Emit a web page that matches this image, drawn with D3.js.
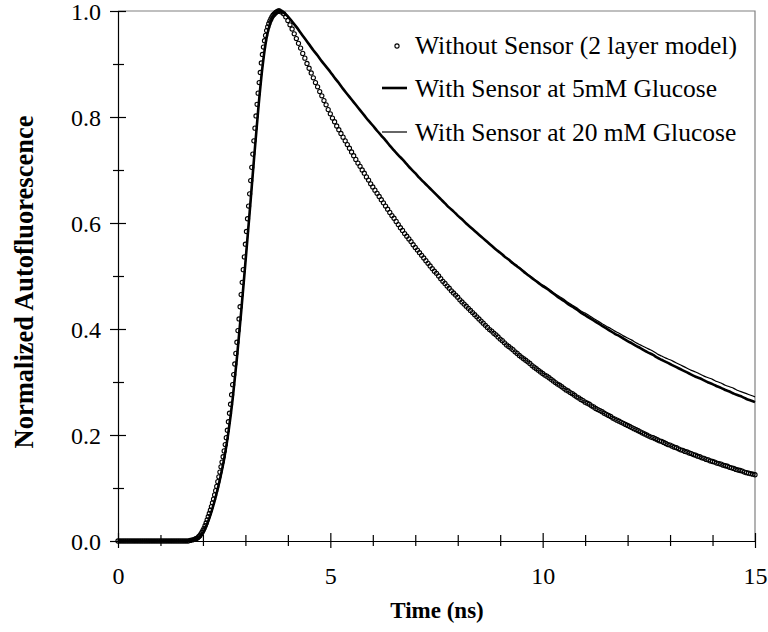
<!DOCTYPE html>
<html>
<head>
<meta charset="utf-8">
<script src="https://cdn.jsdelivr.net/npm/d3@7"></script>
<style>
  body { margin: 0; background: #fff; }
  svg { display: block; }
  text { font-family: "Liberation Serif", "Times New Roman", serif; fill: #000; }
</style>
</head>
<body>
<svg id="chart" width="768" height="632"></svg>
<script>
// ---- data ----
const timeNs = [
  0.0,0.1,0.2,0.3,0.4,0.5,0.6,0.7,0.8,0.9,
  1.0,1.1,1.2,1.3,1.4,1.5,1.6,1.7,1.8,1.9,
  2.0,2.1,2.2,2.3,2.4,2.5,2.6,2.7,2.8,2.9,
  3.0,3.1,3.2,3.3,3.4,3.5,3.6,3.7,3.8,3.9,
  4.0,4.1,4.2,4.3,4.4,4.5,4.6,4.7,4.8,4.9,
  5.0,5.1,5.2,5.3,5.4,5.5,5.6,5.7,5.8,5.9,
  6.0,6.1,6.2,6.3,6.4,6.5,6.6,6.7,6.8,6.9,
  7.0,7.1,7.2,7.3,7.4,7.5,7.6,7.7,7.8,7.9,
  8.0,8.1,8.2,8.3,8.4,8.5,8.6,8.7,8.8,8.9,
  9.0,9.1,9.2,9.3,9.4,9.5,9.6,9.7,9.8,9.9,
  10.0,10.1,10.2,10.3,10.4,10.5,10.6,10.7,10.8,10.9,
  11.0,11.1,11.2,11.3,11.4,11.5,11.6,11.7,11.8,11.9,
  12.0,12.1,12.2,12.3,12.4,12.5,12.6,12.7,12.8,12.9,
  13.0,13.1,13.2,13.3,13.4,13.5,13.6,13.7,13.8,13.9,
  14.0,14.1,14.2,14.3,14.4,14.5,14.6,14.7,14.8,14.9,
  15.0
];

const sensor5mM = [
  0,0,0,0,0,0,0,0,0,0,
  0,0,0,0,0,0,0,0.001,0.002,0.006,
  0.015,0.032,0.055,0.083,0.116,0.155,0.205,0.268,0.345,0.432,
  0.525,0.620,0.718,0.812,0.893,0.950,0.980,0.995,1.000,0.997,
  0.990,0.980,0.970,0.959,0.948,0.937,0.926,0.916,0.905,0.895,
  0.885,0.874,0.864,0.853,0.843,0.833,0.823,0.813,0.803,0.793,
  0.784,0.774,0.765,0.756,0.746,0.737,0.728,0.720,0.711,0.702,
  0.694,0.685,0.677,0.669,0.661,0.653,0.645,0.637,0.629,0.622,
  0.614,0.607,0.599,0.592,0.585,0.578,0.571,0.564,0.557,0.550,
  0.544,0.537,0.531,0.524,0.518,0.512,0.505,0.499,0.493,0.487,
  0.481,0.476,0.470,0.464,0.458,0.453,0.447,0.442,0.437,0.431,
  0.426,0.421,0.416,0.411,0.406,0.401,0.396,0.391,0.387,0.382,
  0.377,0.373,0.368,0.364,0.359,0.355,0.351,0.346,0.342,0.338,
  0.334,0.330,0.326,0.322,0.318,0.314,0.310,0.307,0.303,0.299,
  0.296,0.292,0.289,0.285,0.282,0.278,0.275,0.272,0.268,0.265,
  0.262
];

const sensor20mM = [
  0,0,0,0,0,0,0,0,0,0,
  0,0,0,0,0,0,0,0.001,0.002,0.006,
  0.015,0.032,0.055,0.083,0.116,0.155,0.205,0.268,0.345,0.432,
  0.525,0.620,0.718,0.812,0.893,0.950,0.980,0.995,1.000,0.997,
  0.990,0.980,0.970,0.959,0.948,0.937,0.926,0.916,0.905,0.895,
  0.885,0.874,0.864,0.853,0.843,0.833,0.823,0.813,0.803,0.793,
  0.784,0.774,0.765,0.756,0.746,0.737,0.728,0.720,0.711,0.702,
  0.694,0.685,0.677,0.669,0.661,0.653,0.645,0.637,0.629,0.622,
  0.614,0.607,0.599,0.592,0.585,0.578,0.571,0.564,0.557,0.550,
  0.544,0.537,0.531,0.525,0.519,0.513,0.506,0.500,0.494,0.488,
  0.483,0.478,0.472,0.466,0.461,0.456,0.450,0.445,0.440,0.434,
  0.430,0.425,0.420,0.415,0.410,0.405,0.401,0.396,0.392,0.387,
  0.383,0.379,0.374,0.370,0.366,0.362,0.358,0.353,0.349,0.345,
  0.342,0.338,0.334,0.330,0.326,0.322,0.319,0.315,0.311,0.308,
  0.305,0.301,0.298,0.294,0.291,0.288,0.284,0.281,0.278,0.275,
  0.272
];

// open-circle series: [time (ns), value]
const withoutSensor = [
  [0.00,0],[0.05,0],[0.10,0],[0.15,0],[0.20,0],[0.25,0],[0.30,0],[0.35,0],
  [0.40,0],[0.45,0],[0.50,0],[0.55,0],[0.60,0],[0.65,0],[0.70,0],[0.75,0],
  [0.80,0],[0.85,0],[0.90,0],[0.95,0],[1.00,0],[1.05,0],[1.10,0],[1.15,0],
  [1.20,0],[1.25,0],[1.30,0],[1.35,0],[1.40,0],[1.45,0],[1.50,0],[1.55,0],
  [1.60,0],[1.65,0],[1.70,0.001],[1.75,0.002],
  [1.800,0.003],[1.825,0.004],[1.850,0.005],[1.875,0.006],[1.900,0.008],[1.925,0.010],[1.950,0.013],[1.975,0.016],
  [2.000,0.020],[2.025,0.024],[2.050,0.029],[2.075,0.034],[2.100,0.040],[2.125,0.046],[2.150,0.052],[2.175,0.058],
  [2.200,0.065],[2.225,0.072],[2.250,0.079],[2.275,0.087],[2.300,0.095],[2.325,0.103],[2.350,0.112],[2.375,0.121],
  [2.400,0.130],[2.425,0.140],[2.450,0.149],[2.475,0.159],[2.500,0.170],[2.525,0.182],[2.550,0.195],[2.575,0.209],
  [2.600,0.225],[2.625,0.241],[2.650,0.258],[2.675,0.276],[2.700,0.295],[2.725,0.314],[2.750,0.334],[2.775,0.354],
  [2.800,0.375],[2.825,0.397],[2.850,0.419],[2.875,0.442],[2.900,0.465],[2.925,0.488],[2.950,0.512],[2.975,0.536],
  [3.000,0.560],[3.025,0.584],[3.050,0.608],[3.075,0.632],[3.100,0.655],[3.125,0.680],[3.150,0.705],[3.175,0.730],
  [3.200,0.755],[3.225,0.779],[3.250,0.802],[3.275,0.824],[3.300,0.845],[3.325,0.865],[3.350,0.884],[3.375,0.902],
  [3.400,0.918],[3.425,0.932],[3.450,0.944],[3.475,0.954],[3.500,0.963],[3.525,0.970],[3.550,0.976],[3.575,0.981],
  [3.600,0.985],[3.625,0.989],[3.650,0.992],[3.675,0.994],[3.700,0.996],[3.725,0.998],[3.750,0.999],[3.775,1.000],
  [3.80,1.000],[3.85,0.998],[3.90,0.995],[3.95,0.989],[4.00,0.982],[4.05,0.974],[4.10,0.966],[4.15,0.957],
  [4.20,0.948],[4.25,0.939],[4.30,0.930],[4.35,0.920],[4.40,0.911],[4.45,0.901],[4.50,0.892],[4.55,0.883],
  [4.60,0.874],[4.65,0.865],[4.70,0.857],[4.75,0.848],[4.80,0.840],[4.85,0.831],[4.90,0.823],[4.95,0.814],
  [5.00,0.806],[5.05,0.798],[5.10,0.791],[5.15,0.783],[5.20,0.776],[5.25,0.769],[5.30,0.762],[5.35,0.755],
  [5.40,0.748],[5.45,0.741],[5.50,0.734],[5.55,0.727],[5.60,0.720],[5.65,0.713],[5.70,0.707],[5.75,0.700],
  [5.80,0.694],[5.85,0.687],[5.90,0.681],[5.95,0.674],[6.00,0.668],[6.05,0.662],[6.10,0.656],[6.15,0.650],
  [6.20,0.644],[6.25,0.638],[6.30,0.632],[6.35,0.626],[6.40,0.620],[6.45,0.614],[6.50,0.609],[6.55,0.603],
  [6.60,0.597],[6.65,0.591],[6.70,0.586],[6.75,0.580],[6.80,0.575],[6.85,0.570],[6.90,0.565],[6.95,0.559],
  [7.00,0.554],[7.05,0.549],[7.10,0.544],[7.15,0.539],[7.20,0.534],[7.25,0.529],[7.30,0.524],[7.35,0.519],
  [7.40,0.514],[7.45,0.509],[7.50,0.505],[7.55,0.500],[7.60,0.495],[7.65,0.490],[7.70,0.486],[7.75,0.481],
  [7.80,0.477],[7.85,0.472],[7.90,0.468],[7.95,0.464],[8.00,0.460],[8.05,0.455],[8.10,0.451],[8.15,0.447],
  [8.20,0.443],[8.25,0.439],[8.30,0.435],[8.35,0.431],[8.40,0.427],[8.45,0.423],[8.50,0.419],[8.55,0.415],
  [8.60,0.411],[8.65,0.407],[8.70,0.403],[8.75,0.399],[8.80,0.396],[8.85,0.392],[8.90,0.389],[8.95,0.385],
  [9.00,0.381],[9.05,0.378],[9.10,0.374],[9.15,0.370],[9.20,0.367],[9.25,0.364],[9.30,0.361],[9.35,0.357],
  [9.40,0.354],[9.45,0.350],[9.50,0.347],[9.55,0.344],[9.60,0.341],[9.65,0.338],[9.70,0.335],[9.75,0.331],
  [9.80,0.328],[9.85,0.325],[9.90,0.322],[9.95,0.319],[10.00,0.316],[10.05,0.313],[10.10,0.311],[10.15,0.308],
  [10.20,0.305],[10.25,0.302],[10.30,0.299],[10.35,0.296],[10.40,0.294],[10.45,0.291],[10.50,0.288],[10.55,0.285],
  [10.60,0.283],[10.65,0.280],[10.70,0.278],[10.75,0.275],[10.80,0.272],[10.85,0.270],[10.90,0.267],[10.95,0.265],
  [11.00,0.262],[11.05,0.260],[11.10,0.258],[11.15,0.255],[11.20,0.253],[11.25,0.250],[11.30,0.248],[11.35,0.246],
  [11.40,0.244],[11.45,0.241],[11.50,0.239],[11.55,0.237],[11.60,0.235],[11.65,0.232],[11.70,0.230],[11.75,0.228],
  [11.80,0.226],[11.85,0.224],[11.90,0.222],[11.95,0.220],[12.00,0.218],[12.05,0.216],[12.10,0.214],[12.15,0.212],
  [12.20,0.210],[12.25,0.208],[12.30,0.206],[12.35,0.204],[12.40,0.202],[12.45,0.200],[12.50,0.198],[12.55,0.196],
  [12.60,0.195],[12.65,0.193],[12.70,0.191],[12.75,0.189],[12.80,0.188],[12.85,0.186],[12.90,0.184],[12.95,0.182],
  [13.00,0.181],[13.05,0.179],[13.10,0.177],[13.15,0.176],[13.20,0.174],[13.25,0.172],[13.30,0.171],[13.35,0.169],
  [13.40,0.168],[13.45,0.166],[13.50,0.165],[13.55,0.163],[13.60,0.162],[13.65,0.160],[13.70,0.159],[13.75,0.157],
  [13.80,0.156],[13.85,0.154],[13.90,0.153],[13.95,0.151],[14.00,0.150],[14.05,0.149],[14.10,0.147],[14.15,0.146],
  [14.20,0.145],[14.25,0.143],[14.30,0.142],[14.35,0.141],[14.40,0.139],[14.45,0.138],[14.50,0.137],[14.55,0.135],
  [14.60,0.134],[14.65,0.133],[14.70,0.132],[14.75,0.130],[14.80,0.129],[14.85,0.128],[14.90,0.127],[14.95,0.126],
  [15.00,0.125]
];

const xMajorTicks = [0, 5, 10, 15];
const xMinorTicks = [1, 2, 3, 4, 6, 7, 8, 9, 11, 12, 13, 14];
const yMajorTicks = [0, 0.2, 0.4, 0.6, 0.8, 1.0];
const yMinorTicks = [0.1, 0.3, 0.5, 0.7, 0.9];
const legendLabels = [
  'Without Sensor (2 layer model)',
  'With Sensor at 5mM Glucose',
  'With Sensor at 20 mM Glucose'
];

// ---- layout ----
const svg = d3.select('#chart');
const x = d3.scaleLinear().domain([0, 15]).range([118, 755]);
const y = d3.scaleLinear().domain([0, 1]).range([541, 11]);

// plot frame (top + right, grey)
svg.append('path')
  .attr('d', `M${x(0)},${y(1)}H${x(15)}V${y(0)}`)
  .attr('fill', 'none').attr('stroke', '#808080').attr('stroke-width', 1.2);

// y axis
const yAxis = svg.append('g').attr('transform', `translate(${x(0)},0)`)
  .call(d3.axisLeft(y).tickValues(yMajorTicks).tickSizeInner(8).tickSizeOuter(0)
    .tickPadding(9).tickFormat(d3.format('.1f')));
yAxis.selectAll('.tick line').attr('x1', 8);
yAxis.selectAll('.tick text').attr('dy', '0.36em');
svg.append('g').attr('transform', `translate(${x(0)},0)`)
  .call(d3.axisLeft(y).tickValues(yMinorTicks).tickSizeInner(5).tickSizeOuter(0).tickFormat(''))
  .call(g => g.select('.domain').remove())
  .selectAll('.tick line').attr('x1', 6);

// x axis
const xAxis = svg.append('g').attr('transform', `translate(0,${y(0)})`)
  .call(d3.axisBottom(x).tickValues(xMajorTicks).tickSizeInner(7).tickSizeOuter(0)
    .tickPadding(19).tickFormat(d3.format('d')));
xAxis.selectAll('.tick line').attr('y1', -8);
svg.append('g').attr('transform', `translate(0,${y(0)})`)
  .call(d3.axisBottom(x).tickValues(xMinorTicks).tickSizeInner(5).tickSizeOuter(0).tickFormat(''))
  .call(g => g.select('.domain').remove())
  .selectAll('.tick line').attr('y1', -6);

svg.selectAll('.domain, .tick line').attr('stroke', '#000').attr('stroke-width', 1.2);
svg.selectAll('.tick text')
  .style('font-family', '"Liberation Serif", "Times New Roman", serif')
  .style('font-size', '24px').attr('fill', '#000');

// axis titles
svg.append('text')
  .attr('x', 437).attr('y', 618)
  .attr('text-anchor', 'middle')
  .style('font-size', '23px').style('font-weight', 'bold')
  .text('Time (ns)');
svg.append('text')
  .attr('transform', 'translate(33,282) rotate(-90)')
  .attr('text-anchor', 'middle')
  .style('font-size', '26.5px').style('font-weight', 'bold')
  .text('Normalized Autofluorescence');

// ---- series ----
svg.append('g').selectAll('circle')
  .data(withoutSensor)
  .join('circle')
  .attr('cx', d => x(d[0]))
  .attr('cy', d => y(d[1]))
  .attr('r', 2.1)
  .attr('fill', 'none')
  .attr('stroke', '#000')
  .attr('stroke-width', 1.1);

const line = d3.line()
  .x((d, i) => x(timeNs[i]))
  .y(d => y(d))
  .curve(d3.curveMonotoneX);

svg.append('path').datum(sensor5mM)
  .attr('d', line)
  .attr('fill', 'none').attr('stroke', '#000').attr('stroke-width', 2.6);
svg.append('path').datum(sensor20mM)
  .attr('d', line)
  .attr('fill', 'none').attr('stroke', '#000').attr('stroke-width', 1.2);

// ---- legend ----
const legend = svg.append('g');
const rowY = [45, 88, 132];
legend.append('circle')
  .attr('cx', 397).attr('cy', rowY[0] + 1).attr('r', 2.1)
  .attr('fill', 'none').attr('stroke', '#000').attr('stroke-width', 1.1);
legend.append('line')
  .attr('x1', 382).attr('x2', 407).attr('y1', rowY[1]).attr('y2', rowY[1])
  .attr('stroke', '#000').attr('stroke-width', 2.6);
legend.append('line')
  .attr('x1', 382).attr('x2', 407).attr('y1', rowY[2]).attr('y2', rowY[2])
  .attr('stroke', '#000').attr('stroke-width', 1.2);
legend.selectAll('text.lbl')
  .data(legendLabels)
  .join('text')
  .attr('class', 'lbl')
  .attr('x', 415)
  .attr('y', (d, i) => rowY[i])
  .attr('dy', '0.35em')
  .style('font-size', '25.5px')
  .text(d => d);
</script>
</body>
</html>
